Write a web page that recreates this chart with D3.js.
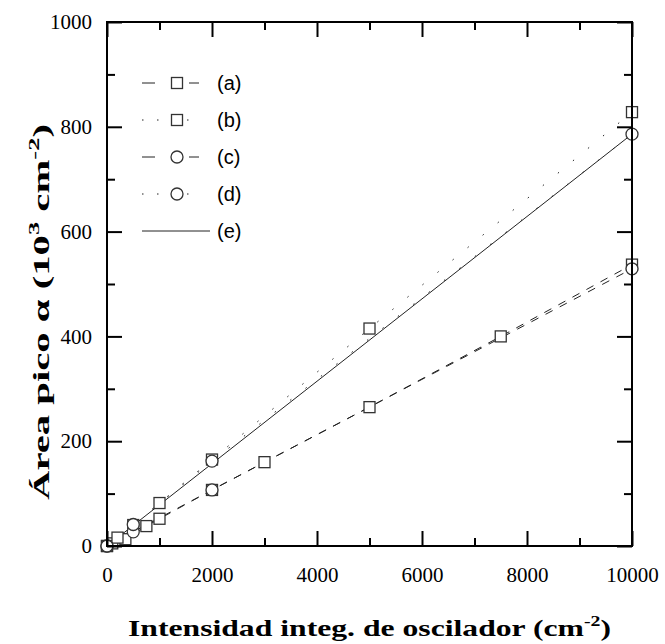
<!DOCTYPE html>
<html>
<head>
<meta charset="utf-8">
<script src="https://cdn.jsdelivr.net/npm/d3@7"></script>
<style>
  body { margin: 0; background: #fff; }
  svg { display: block; }
</style>
</head>
<body>
<div class="content"></div>
<script>
// series values
var aX = [0, 100, 350, 750, 1000, 2000, 3000, 5000, 7500, 10000];
var aY = [0, 5, 13, 38, 52, 107, 160, 265, 400, 537];
var bX = [0, 200, 500, 1000, 2000, 5000, 10000];
var bY = [0, 16, 40, 82, 165, 415, 828];
var cX = [0, 500, 2000, 10000];
var cY = [0, 27, 107, 529];
var dX = [0, 500, 2000, 10000];
var dY = [0, 41, 162, 786];
var eX = [0, 10000];
var eY = [0, 786];

var legendLabels = ["(a)", "(b)", "(c)", "(d)", "(e)"];
var xMajor = [0, 2000, 4000, 6000, 8000, 10000];
var xMinor = [1000, 3000, 5000, 7000, 9000];
var yMajor = [0, 200, 400, 600, 800, 1000];
var yMinor = [100, 300, 500, 700, 900];

function zip(xs, ys) { return xs.map(function(v, i) { return {x: v, y: ys[i]}; }); }

var series = [
  {name: legendLabels[0], data: zip(aX, aY), dash: "8,8", marker: "square", legDash: "13,34,10"},
  {name: legendLabels[1], data: zip(bX, bY), dash: "1.5,18", marker: "square", legDash: "1.5,13.5"},
  {name: legendLabels[2], data: zip(cX, cY), dash: "8,8", marker: "circle", legDash: "13,34,10"},
  {name: legendLabels[3], data: zip(dX, dY), dash: "1.5,18", marker: "circle", legDash: "1.5,13.5"},
  {name: legendLabels[4], data: zip(eX, eY), dash: null, marker: null, legDash: null}
];

function render(){
var margin = {top: 22, right: 33, bottom: 98, left: 107},
    width = 665 - margin.left - margin.right,
    height = 644 - margin.top - margin.bottom;

var x = d3.scaleLinear().domain([0, 10000]).range([0, width]);
var y = d3.scaleLinear().domain([0, 1000]).range([height, 0]);

var svg = d3.select(".content").append("svg")
    .attr("width", 665)
    .attr("height", 644)
  .append("g")
    .attr("transform", "translate(" + margin.left + "," + margin.top + ")");

var line = d3.line()
    .x(function(d) { return x(d.x); })
    .y(function(d) { return y(d.y); });

// lines
series.forEach(function(s) {
  svg.append("path")
      .datum(s.data)
      .attr("d", line)
      .attr("fill", "none")
      .attr("stroke", "#222")
      .attr("stroke-width", 1)
      .attr("stroke-dasharray", s.dash);
});

function drawMarker(g, type, cx, cy) {
  if (type === "square") {
    g.append("rect")
        .attr("x", cx - 5.5).attr("y", cy - 5.5)
        .attr("width", 11).attr("height", 11)
        .attr("fill", "#fff").attr("stroke", "#333").attr("stroke-width", 1.3);
  } else if (type === "circle") {
    g.append("circle")
        .attr("cx", cx).attr("cy", cy).attr("r", 6)
        .attr("fill", "#fff").attr("stroke", "#333").attr("stroke-width", 1.3);
  }
}

// markers
series.forEach(function(s) {
  if (!s.marker) return;
  var mg = svg.append("g");
  s.data.forEach(function(d) { drawMarker(mg, s.marker, x(d.x), y(d.y)); });
});

// axes, ticks inside
function styleAxis(g) {
  g.select(".domain").remove();
  g.selectAll(".tick line").attr("stroke", "#000").attr("stroke-width", 2);
  g.selectAll("text")
      .attr("fill", "#000")
      .style("font-family", "'Liberation Serif', 'Times New Roman', serif")
      .style("font-size", "21px");
}

svg.append("g")
    .attr("transform", "translate(0," + height + ")")
    .call(d3.axisBottom(x).tickValues(xMajor).tickSize(-15).tickPadding(21).tickFormat(d3.format("d")))
    .call(styleAxis);
svg.append("g")
    .attr("transform", "translate(0," + height + ")")
    .call(d3.axisBottom(x).tickValues(xMinor).tickSize(-8).tickFormat(""))
    .call(styleAxis);
svg.append("g")
    .call(d3.axisTop(x).tickValues(xMajor).tickSize(-15).tickFormat(""))
    .call(styleAxis);
svg.append("g")
    .call(d3.axisTop(x).tickValues(xMinor).tickSize(-8).tickFormat(""))
    .call(styleAxis);
svg.append("g")
    .call(d3.axisLeft(y).tickValues(yMajor).tickSize(-15).tickPadding(15).tickFormat(d3.format("d")))
    .call(styleAxis);
svg.append("g")
    .call(d3.axisLeft(y).tickValues(yMinor).tickSize(-8).tickFormat(""))
    .call(styleAxis);
svg.append("g")
    .attr("transform", "translate(" + width + ",0)")
    .call(d3.axisRight(y).tickValues(yMajor).tickSize(-15).tickFormat(""))
    .call(styleAxis);
svg.append("g")
    .attr("transform", "translate(" + width + ",0)")
    .call(d3.axisRight(y).tickValues(yMinor).tickSize(-8).tickFormat(""))
    .call(styleAxis);

// frame
svg.append("rect")
    .attr("width", width).attr("height", height)
    .attr("fill", "none").attr("stroke", "#000").attr("stroke-width", 2);

// legend
var leg = svg.append("g").attr("transform", "translate(35,61)");
series.forEach(function(s, i) {
  var row = leg.append("g").attr("transform", "translate(0," + (i * 37) + ")");
  row.append("line")
      .attr("x1", 0).attr("x2", s.marker ? 58 : 68)
      .attr("y1", 0).attr("y2", 0)
      .attr("stroke", "#222").attr("stroke-width", 1)
      .attr("stroke-dasharray", s.legDash);
  if (s.marker) drawMarker(row, s.marker, 35, 0);
  row.append("text")
      .attr("x", 75).attr("y", 0).attr("dy", "0.35em")
      .style("font-family", "'Liberation Sans', Arial, sans-serif")
      .style("font-size", "20px")
      .text(s.name);
});

// axis titles (stretched along the text direction like the original)
var title = svg.append("text")
    .attr("transform", "translate(" + (width / 2) + "," + (height + 90) + ") scale(1.32,1)")
    .attr("text-anchor", "middle")
    .style("font-family", "'Liberation Serif', 'Times New Roman', serif")
    .style("font-size", "24px").style("font-weight", "bold");
title.append("tspan").text("Intensidad integ. de oscilador  (cm");
title.append("tspan").attr("dy", -10).style("font-size", "15px").text("-2");
title.append("tspan").attr("dy", 10).text(")");

var ytitle = svg.append("text")
    .attr("transform", "translate(-58," + (height / 2 + 28) + ") rotate(-90) scale(1.77,1)")
    .attr("text-anchor", "middle")
    .style("font-family", "'Liberation Serif', 'Times New Roman', serif")
    .style("font-size", "23px").style("font-weight", "bold");
ytitle.append("tspan").text("Área pico  α (10");
ytitle.append("tspan").attr("dy", -10).style("font-size", "15px").text("3");
ytitle.append("tspan").attr("dy", 10).text(" cm");
ytitle.append("tspan").attr("dy", -10).style("font-size", "15px").text("-2");
ytitle.append("tspan").attr("dy", 10).text(")");
}
render();
</script>
</body>
</html>
